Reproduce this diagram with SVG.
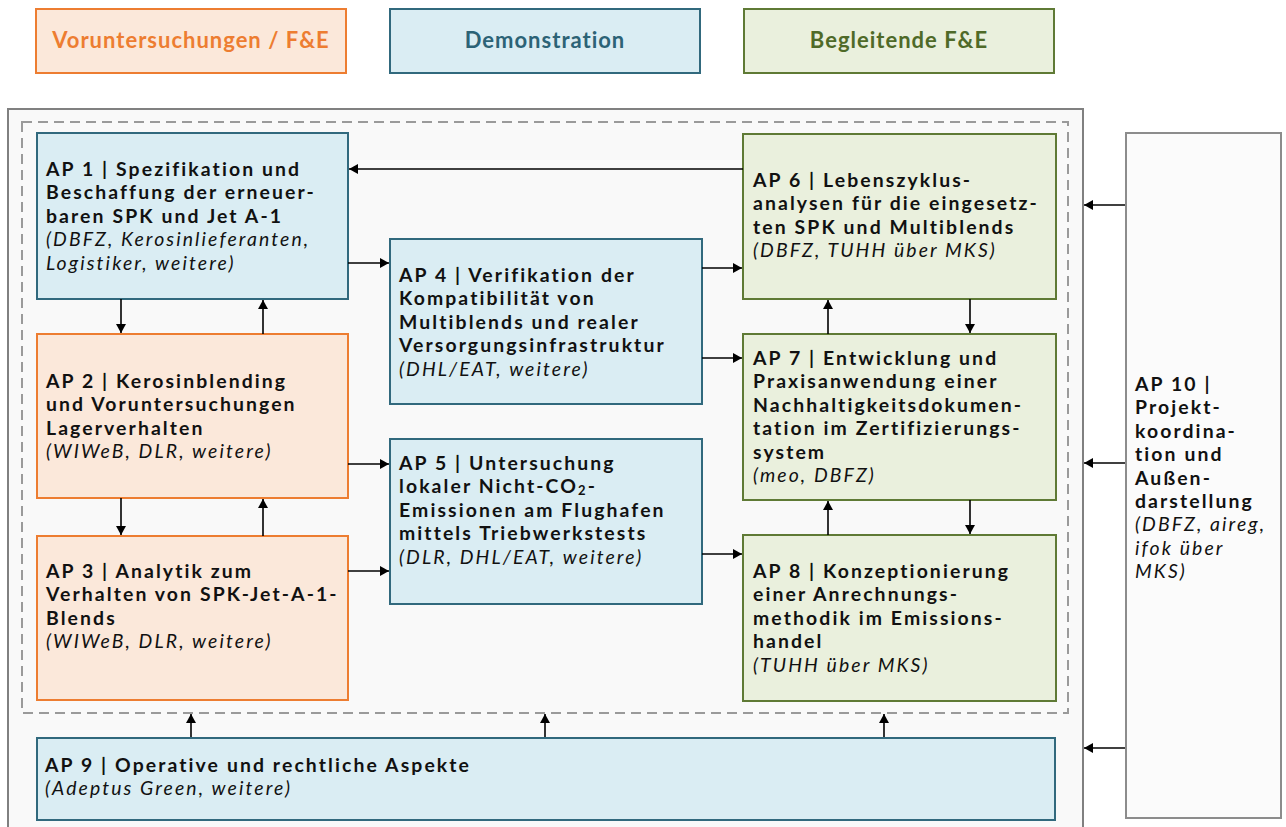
<svg xmlns="http://www.w3.org/2000/svg" width="1286" height="827" viewBox="0 0 1286 827">
  <defs>
    <marker id="arrow" markerUnits="userSpaceOnUse" markerWidth="9" markerHeight="10" refX="9" refY="5" orient="auto">
      <path d="M0,0 L9,5 L0,10 z" fill="#000"/>
    </marker>
    <style>
      text { font-family: Lato, "Open Sans", "Liberation Sans", sans-serif; font-size: 19.4px; letter-spacing: 2.1px; fill: #111; }
      .b { font-weight: bold; }
      .i { font-style: italic; }
      .legend { font-weight: bold; font-size: 22px; letter-spacing: 1px; text-anchor: middle; }
      .blue { fill: #daedf3; stroke: #31697d; stroke-width: 2; }
      .orange { fill: #fbe8da; stroke: #ed7d31; stroke-width: 2; }
      .green { fill: #eaf0dd; stroke: #5f7a35; stroke-width: 2; }
      .conn { stroke: #000; stroke-width: 1.6; fill: none; marker-end: url(#arrow); }
    </style>
  </defs>

  <rect width="1286" height="827" fill="#fff"/>

  <!-- legend -->
  <g id="legend">
    <rect class="orange" x="36" y="9" width="310" height="64"/>
    <text class="legend" x="191" y="48" style="fill:#ed7d31">Voruntersuchungen / F&amp;E</text>
    <rect class="blue" x="390" y="9" width="310" height="64"/>
    <text class="legend" x="545" y="48" style="fill:#2c6376">Demonstration</text>
    <rect class="green" x="744" y="9" width="310" height="64"/>
    <text class="legend" x="899" y="48" style="fill:#4f6a28">Begleitende F&amp;E</text>
  </g>

  <!-- frames -->
  <g id="frames">
    <rect x="8" y="109" width="1075" height="730" fill="#f9f9f9" stroke="#808080" stroke-width="2"/>
    <rect x="22" y="122" width="1046" height="591" fill="none" stroke="#9a9a9a" stroke-width="2" stroke-dasharray="10,6"/>
  </g>

  <!-- work packages -->
  <g id="ap1">
    <rect class="blue" x="37" y="133" width="311" height="166"/>
    <text class="b" x="46" y="176">AP 1 | Spezifikation und</text>
    <text class="b" x="46" y="199.4">Beschaffung der erneuer-</text>
    <text class="b" x="46" y="222.8">baren SPK und Jet A-1</text>
    <text class="i" x="46" y="246.2">(DBFZ, Kerosinlieferanten,</text>
    <text class="i" x="46" y="269.6">Logistiker, weitere)</text>
  </g>

  <g id="ap2">
    <rect class="orange" x="37" y="334" width="311" height="164"/>
    <text class="b" x="46" y="388">AP 2 | Kerosinblending</text>
    <text class="b" x="46" y="411.4">und Voruntersuchungen</text>
    <text class="b" x="46" y="434.8">Lagerverhalten</text>
    <text class="i" x="46" y="458.2">(WIWeB, DLR, weitere)</text>
  </g>

  <g id="ap3">
    <rect class="orange" x="37" y="536" width="311" height="164"/>
    <text class="b" x="46" y="578">AP 3 | Analytik zum</text>
    <text class="b" x="46" y="601.4">Verhalten von SPK-Jet-A-1-</text>
    <text class="b" x="46" y="624.8">Blends</text>
    <text class="i" x="46" y="648.2">(WIWeB, DLR, weitere)</text>
  </g>

  <g id="ap4">
    <rect class="blue" x="390" y="239" width="312" height="165"/>
    <text class="b" x="399" y="282">AP 4 | Verifikation der</text>
    <text class="b" x="399" y="305.4">Kompatibilität von</text>
    <text class="b" x="399" y="328.8">Multiblends und realer</text>
    <text class="b" x="399" y="352.2">Versorgungsinfrastruktur</text>
    <text class="i" x="399" y="375.6">(DHL/EAT, weitere)</text>
  </g>

  <g id="ap5">
    <rect class="blue" x="390" y="439" width="312" height="165"/>
    <text class="b" x="399" y="470">AP 5 | Untersuchung</text>
    <text class="b" x="399" y="493.4">lokaler Nicht-CO<tspan font-size="13" dy="2">2</tspan><tspan dy="-2">-</tspan></text>
    <text class="b" x="399" y="516.8">Emissionen am Flughafen</text>
    <text class="b" x="399" y="540.2">mittels Triebwerkstests</text>
    <text class="i" x="399" y="563.6">(DLR, DHL/EAT, weitere)</text>
  </g>

  <g id="ap6">
    <rect class="green" x="743" y="134" width="313" height="165"/>
    <text class="b" x="753" y="187">AP 6 | Lebenszyklus-</text>
    <text class="b" x="753" y="210.4">analysen für die eingesetz-</text>
    <text class="b" x="753" y="233.8">ten SPK und Multiblends</text>
    <text class="i" x="753" y="257.2">(DBFZ, TUHH über MKS)</text>
  </g>

  <g id="ap7">
    <rect class="green" x="743" y="334" width="313" height="166"/>
    <text class="b" x="753" y="365">AP 7 | Entwicklung und</text>
    <text class="b" x="753" y="388.4">Praxisanwendung einer</text>
    <text class="b" x="753" y="411.8">Nachhaltigkeitsdokumen-</text>
    <text class="b" x="753" y="435.2">tation im Zertifizierungs-</text>
    <text class="b" x="753" y="458.6">system</text>
    <text class="i" x="753" y="482">(meo, DBFZ)</text>
  </g>

  <g id="ap8">
    <rect class="green" x="743" y="535" width="313" height="166"/>
    <text class="b" x="753" y="578">AP 8 | Konzeptionierung</text>
    <text class="b" x="753" y="601.4">einer Anrechnungs-</text>
    <text class="b" x="753" y="624.8">methodik im Emissions-</text>
    <text class="b" x="753" y="648.2">handel</text>
    <text class="i" x="753" y="671.6">(TUHH über MKS)</text>
  </g>

  <g id="ap9">
    <rect class="blue" x="37" y="738" width="1018" height="82"/>
    <text class="b" x="45" y="772">AP 9 | Operative und rechtliche Aspekte</text>
    <text class="i" x="45" y="795.4">(Adeptus Green, weitere)</text>
  </g>

  <g id="ap10">
    <rect x="1126" y="133" width="155" height="685" fill="#fbfbfb" stroke="#8c8c8c" stroke-width="2"/>
    <text class="b" x="1135" y="391">AP 10 |</text>
    <text class="b" x="1135" y="414.4">Projekt-</text>
    <text class="b" x="1135" y="437.8">koordina-</text>
    <text class="b" x="1135" y="461.2">tion und</text>
    <text class="b" x="1135" y="484.6">Außen-</text>
    <text class="b" x="1135" y="508">darstellung</text>
    <text class="i" x="1135" y="531.4">(DBFZ, aireg,</text>
    <text class="i" x="1135" y="554.8">ifok über</text>
    <text class="i" x="1135" y="578.2">MKS)</text>
  </g>

  <!-- connectors -->
  <g id="connectors">
    <path class="conn" d="M743,169 H349"/>
    <path class="conn" d="M348,263 H389"/>
    <path class="conn" d="M702,268 H742"/>
    <path class="conn" d="M702,358 H742"/>
    <path class="conn" d="M121,299 V333"/>
    <path class="conn" d="M263,334 V300"/>
    <path class="conn" d="M121,498 V535"/>
    <path class="conn" d="M263,536 V499"/>
    <path class="conn" d="M348,464 H389"/>
    <path class="conn" d="M348,571 H389"/>
    <path class="conn" d="M702,554 H742"/>
    <path class="conn" d="M828,334 V300"/>
    <path class="conn" d="M970,299 V333"/>
    <path class="conn" d="M828,535 V501"/>
    <path class="conn" d="M970,500 V534"/>
    <path class="conn" d="M1125,205 H1084"/>
    <path class="conn" d="M1125,463 H1084"/>
    <path class="conn" d="M1125,748 H1084"/>
    <path class="conn" d="M191,737 V714"/>
    <path class="conn" d="M545,737 V714"/>
    <path class="conn" d="M884,737 V714"/>
  </g>
</svg>
